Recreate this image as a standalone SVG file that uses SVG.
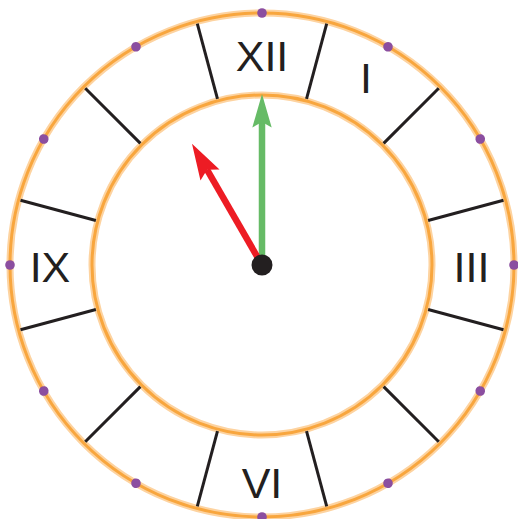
<svg xmlns="http://www.w3.org/2000/svg" width="518" height="519" viewBox="0 0 518 519">
<defs>
<style>
.glow{fill:none;stroke:#FDD3A0;stroke-width:7}
.ring{fill:none;stroke:#F8A63E;stroke-width:3}
.div{stroke:#231F20;stroke-width:3;stroke-linecap:butt}
.dot{fill:#8B4EA0}
.num{font-family:"Liberation Sans",Arial,sans-serif;font-size:43px;fill:#231F20;text-anchor:middle}
</style>
</defs>
<rect width="518" height="519" fill="#fff"/>
<g id="outer-ring">
<circle class="glow" cx="262" cy="265" r="252"/>
<circle class="ring" cx="262" cy="265" r="252"/>
</g>
<g id="inner-ring">
<circle class="glow" cx="262" cy="265" r="170"/>
<circle class="ring" cx="262" cy="265" r="170"/>
</g>
<g id="dividers">
<line class="div" x1="262" y1="93" x2="262" y2="15" transform="rotate(15 262 265)"/>
<line class="div" x1="262" y1="93" x2="262" y2="15" transform="rotate(45 262 265)"/>
<line class="div" x1="262" y1="93" x2="262" y2="15" transform="rotate(75 262 265)"/>
<line class="div" x1="262" y1="93" x2="262" y2="15" transform="rotate(105 262 265)"/>
<line class="div" x1="262" y1="93" x2="262" y2="15" transform="rotate(135 262 265)"/>
<line class="div" x1="262" y1="93" x2="262" y2="15" transform="rotate(165 262 265)"/>
<line class="div" x1="262" y1="93" x2="262" y2="15" transform="rotate(195 262 265)"/>
<line class="div" x1="262" y1="93" x2="262" y2="15" transform="rotate(225 262 265)"/>
<line class="div" x1="262" y1="93" x2="262" y2="15" transform="rotate(255 262 265)"/>
<line class="div" x1="262" y1="93" x2="262" y2="15" transform="rotate(285 262 265)"/>
<line class="div" x1="262" y1="93" x2="262" y2="15" transform="rotate(315 262 265)"/>
<line class="div" x1="262" y1="93" x2="262" y2="15" transform="rotate(345 262 265)"/>
</g>
<g id="dots">
<circle class="dot" cx="262" cy="13" r="4.8" transform="rotate(0 262 265)"/>
<circle class="dot" cx="262" cy="13" r="4.8" transform="rotate(30 262 265)"/>
<circle class="dot" cx="262" cy="13" r="4.8" transform="rotate(60 262 265)"/>
<circle class="dot" cx="262" cy="13" r="4.8" transform="rotate(90 262 265)"/>
<circle class="dot" cx="262" cy="13" r="4.8" transform="rotate(120 262 265)"/>
<circle class="dot" cx="262" cy="13" r="4.8" transform="rotate(150 262 265)"/>
<circle class="dot" cx="262" cy="13" r="4.8" transform="rotate(180 262 265)"/>
<circle class="dot" cx="262" cy="13" r="4.8" transform="rotate(210 262 265)"/>
<circle class="dot" cx="262" cy="13" r="4.8" transform="rotate(240 262 265)"/>
<circle class="dot" cx="262" cy="13" r="4.8" transform="rotate(270 262 265)"/>
<circle class="dot" cx="262" cy="13" r="4.8" transform="rotate(300 262 265)"/>
<circle class="dot" cx="262" cy="13" r="4.8" transform="rotate(330 262 265)"/>
</g>
<g id="numerals">
<text class="num" x="262" y="71">XII</text>
<text class="num" x="366" y="93">I</text>
<text class="num" x="471.5" y="281.5">III</text>
<text class="num" x="262" y="498">VI</text>
<text class="num" x="50" y="281.5">IX</text>
</g>
<g id="minute-hand">
<line x1="262" y1="265" x2="262" y2="122" stroke="#66BB66" stroke-width="6.5"/>
<polygon points="262,94 271.7,127.5 262,122 252.3,127.5" fill="#66BB66"/>
</g>
<g id="hour-hand" transform="rotate(-30 262 265)">
<line x1="262" y1="265" x2="262" y2="155" stroke="#ED1C24" stroke-width="6.5"/>
<polygon points="262,125 273,161 262,155 251,161" fill="#ED1C24"/>
</g>
<g id="pivot">
<circle cx="262" cy="265" r="10.5" fill="#231F20"/>
</g>
</svg>
